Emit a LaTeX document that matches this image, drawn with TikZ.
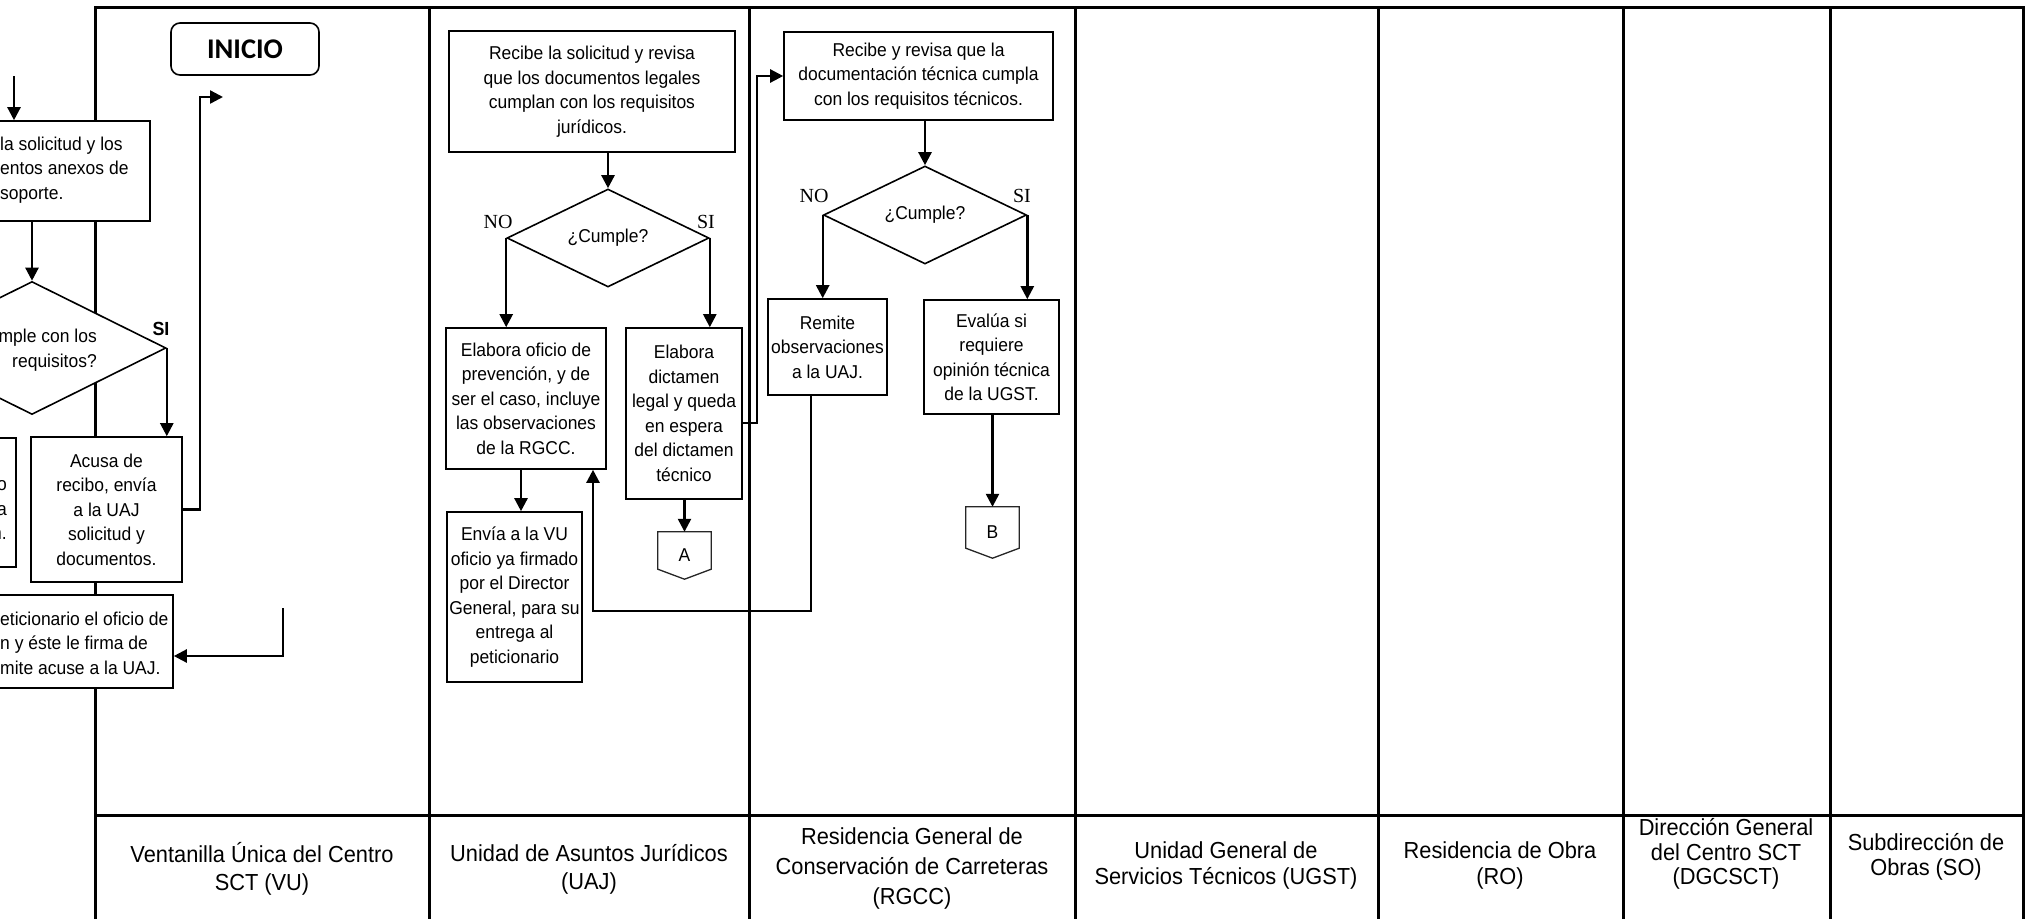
\documentclass[tikz,border=0pt]{standalone}
\usepackage{fontspec}
\setmainfont{Liberation Sans}[FakeStretch=0.94]
\newfontfamily\nofont{Liberation Serif}
\newfontfamily\inifont{Carlito}
\usepackage{tikz}
\usetikzlibrary{arrows.meta, shapes.geometric, positioning}

\begin{document}
\begin{tikzpicture}[x=1pt,y=-1pt,font=\fontsize{18.6}{24.5}\selectfont,
    lane/.style={line width=3pt},
    proc/.style={draw, line width=1.6pt, fill=white, align=center, inner sep=1pt},
    decis/.style={draw, diamond, line width=1.6pt, fill=white, inner sep=0pt},
    inicio/.style={draw, rounded corners=9pt, line width=1.6pt, minimum width=148pt, minimum height=52pt,
      font=\inifont\bfseries\fontsize{28.5}{30}\selectfont},
    arr/.style={line width=2.4pt, -{Triangle[length=13pt,width=13pt]}},
    yesno/.style={inner sep=0pt, font=\nofont\fontsize{20}{20}\selectfont},
    frag/.style={inner sep=0pt},
    offpage/.style={minimum width=53pt, inner sep=0pt},
    offline/.style={line width=1.3pt, black!85},
    lanelbl/.style={align=center, inner sep=0pt}]

      \useasboundingbox (0,0) rectangle (2029,919);
      \clip (0,0) rectangle (2029,919);

      % carriles
      \draw[lane] (95,919) -- (95,7) -- (2023,7) -- (2023,919);
      \foreach \x in {429,749,1075,1378,1623,1830}
        \draw[lane] (\x,7) -- (\x,919);
      \draw[lane] (95,815) -- (2023,815);

      \node[lanelbl, font=\fontsize{23.2}{28}\selectfont] (hVU) at (262,869) {Ventanilla Única del Centro\\SCT (VU)};
      \node[lanelbl, font=\fontsize{23.2}{28}\selectfont] (hUAJ) at (589,869) {Unidad de Asuntos Jurídicos\\(UAJ)};
      \node[lanelbl, font=\fontsize{23.2}{30}\selectfont] (hRGCC) at (912,868) {Residencia General de\\Conservación de Carreteras\\(RGCC)};
      \node[lanelbl, font=\fontsize{23.2}{26}\selectfont] (hUGST) at (1226,865) {Unidad General de\\Servicios Técnicos (UGST)};
      \node[lanelbl, font=\fontsize{23.2}{26}\selectfont] (hRO) at (1500,865) {Residencia de Obra\\(RO)};
      \node[lanelbl, font=\fontsize{23.2}{24.5}\selectfont] (hDG) at (1726,854) {Dirección General\\del Centro SCT\\(DGCSCT)};
      \node[lanelbl, font=\fontsize{23.2}{25}\selectfont] (hSO) at (1926,857) {Subdirección de\\Obras (SO)};

      % VU
      \node[inicio] (ini) at (245,49) {INICIO};
      \node[proc, minimum width=210pt, minimum height=100pt] (recVU) at (45,171) {};
      \node[frag, anchor=west, align=left] (recVUt) at (0,170) {la solicitud y los\\entos anexos de\\soporte.};
      \node[decis, minimum width=268pt, minimum height=133pt] (cumVU) at (32,348) {};
      \node[frag, anchor=east, align=right] (cumVUt) at (97,350) {mple con los\\requisitos?};
      \node[inner sep=0pt, font=\bfseries\fontsize{19}{19}\selectfont] (siVU) at (161,329) {SI};
      \node[proc, minimum width=76pt, minimum height=129pt] (izqVU) at (-22,502.5) {};
      \node[frag, anchor=east, align=right] (izqVUt) at (7,510) {o\\a\\n.};
      \node[proc, minimum width=151pt, minimum height=145pt] (acuVU) at (106.5,509.5) {Acusa de\\recibo, envía\\a la UAJ\\solicitud y\\documentos.};
      \node[proc, minimum width=233pt, minimum height=93pt] (entVU) at (56.5,641.5) {};
      \node[frag, anchor=west, align=left] (entVUt) at (0,643) {eticionario el oficio de\\n y éste le firma de\\mite acuse a la UAJ.};
      \coordinate (inVU) at (14,76);
      \coordinate (toUAJ) at (223,97);
      \coordinate (retVU) at (283,608);

      % UAJ
      \node[proc, minimum width=286pt, minimum height=121pt] (recUAJ) at (592,91.5) {Recibe la solicitud y revisa\\que los documentos legales\\cumplan con los requisitos\\jurídicos.};
      \node[decis, minimum width=202pt, minimum height=92pt] (cumUAJ) at (608,238) {¿Cumple?};
      \node[yesno] (noUAJ) at (498,222) {NO};
      \node[yesno] (siUAJ) at (706,222) {SI};
      \node[proc, minimum width=160pt, minimum height=141pt] (eloUAJ) at (526,398.5) {Elabora oficio de\\prevención, y de\\ser el caso, incluye\\las observaciones\\de la RGCC.};
      \node[proc, minimum width=116pt, minimum height=171pt] (dicUAJ) at (684,413.5) {Elabora\\dictamen\\legal y queda\\en espera\\del dictamen\\técnico};
      \node[proc, minimum width=135pt, minimum height=170pt] (envUAJ) at (514.5,597) {Envía a la VU\\oficio ya firmado\\por el Director\\General, para su\\entrega al\\peticionario};
      \node[offpage, minimum height=47pt] (conA) at (684.5,555.5) {A};

      % RGCC
      \node[proc, minimum width=269pt, minimum height=88pt] (recRGCC) at (918.5,76) {Recibe y revisa que la\\documentación técnica cumpla\\con los requisitos técnicos.};
      \node[decis, minimum width=203pt, minimum height=92pt] (cumRGCC) at (925,215) {¿Cumple?};
      \node[yesno] (noRGCC) at (814,196) {NO};
      \node[yesno] (siRGCC) at (1022,196) {SI};
      \node[proc, minimum width=119pt, minimum height=96pt] (remRGCC) at (827.5,347) {Remite\\observaciones\\a la UAJ.};
      \node[proc, minimum width=135pt, minimum height=114pt] (evaRGCC) at (991.5,357) {Evalúa si\\requiere\\opinión técnica\\de la UGST.};
      \node[offpage, minimum height=51pt] (conB) at (992.5,532.5) {B};

      \foreach \c in {conA,conB}
        \draw[offline] (\c.north west) -- (\c.north east) -- ([yshift=10pt]\c.south east)
          -- (\c.south) -- ([yshift=10pt]\c.south west) -- cycle;

      % flechas
      \draw[arr] (inVU) -- (inVU |- recVU.north);
      \draw[arr] (recVU.south -| cumVU.north) -- (cumVU.north);
      \draw[arr] (cumVU.east) -- (cumVU.east |- acuVU.north);
      \draw[arr] (acuVU.east) -- ++(17,0) |- (toUAJ);
      \draw[arr] (retVU) |- ([yshift=-14.5pt]entVU.east);

      \draw[arr] (recUAJ.south -| cumUAJ.north) -- (cumUAJ.north);
      \draw[arr] (cumUAJ.west) -- (cumUAJ.west |- eloUAJ.north);
      \draw[arr] (cumUAJ.east) -- (cumUAJ.east |- dicUAJ.north);
      \draw[arr] ([xshift=-5pt]eloUAJ.south) -- ([xshift=-5pt]eloUAJ.south |- envUAJ.north);
      \draw[arr] (dicUAJ.south -| conA.north) -- (conA.north);
      \draw[arr] ([yshift=-9.5pt]dicUAJ.east) -- ++(14,0) |- (recRGCC.west);

      \draw[arr] (recRGCC.south -| cumRGCC.north) -- (cumRGCC.north);
      \draw[arr] (cumRGCC.west) -- (cumRGCC.west |- remRGCC.north);
      \draw[arr] (cumRGCC.east) -- (cumRGCC.east |- evaRGCC.north);
      \draw[arr] (evaRGCC.south -| conB.north) -- (conB.north);
      \draw[arr] ([xshift=-16.5pt]remRGCC.south) -- ++(0,215) -| ([xshift=67pt]eloUAJ.south);

\end{tikzpicture}
\end{document}
